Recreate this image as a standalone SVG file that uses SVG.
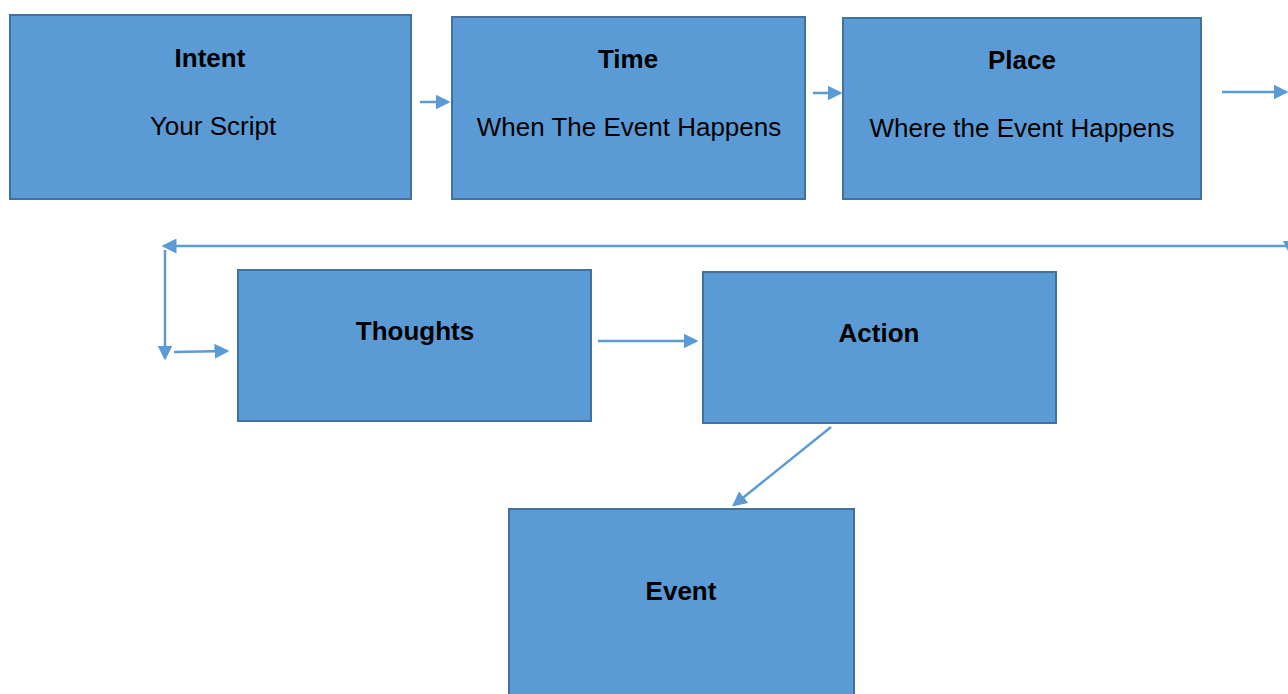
<svg xmlns="http://www.w3.org/2000/svg" width="1288" height="694" viewBox="0 0 1288 694">
<style>
.box{fill:#5B9BD5;stroke:#41719C;stroke-width:2}
.t{font-family:"Liberation Sans",Arial,sans-serif;font-size:26px;fill:#000;text-anchor:middle}
.b{font-weight:bold}
.c{fill:none;stroke:#5B9BD5;stroke-width:2.5}
</style>
<defs>
<marker id="ah" markerWidth="6" markerHeight="6" refX="5" refY="3" orient="auto" markerUnits="strokeWidth">
<path d="M0,0 L6,3 L0,6 z" fill="#5B9BD5"/>
</marker>
</defs>
<rect width="1288" height="694" fill="#fff"/>
<g id="intent"><rect class="box" x="10" y="15" width="401" height="184"/><text class="t b" x="210" y="67">Intent</text><text class="t" x="213" y="135">Your Script</text></g>
<g id="time"><rect class="box" x="452" y="17" width="353" height="182"/><text class="t b" x="628" y="68">Time</text><text class="t" x="629" y="136">When The Event Happens</text></g>
<g id="place"><rect class="box" x="843" y="18" width="358" height="181"/><text class="t b" x="1022" y="69">Place</text><text class="t" x="1022" y="137">Where the Event Happens</text></g>
<g id="thoughts"><rect class="box" x="238" y="270" width="353" height="151"/><text class="t b" x="415" y="340">Thoughts</text></g>
<g id="action"><rect class="box" x="703" y="272" width="353" height="151"/><text class="t b" x="879" y="342">Action</text></g>
<g id="event"><rect class="box" x="509" y="509" width="345" height="190"/><text class="t b" x="681" y="600">Event</text></g>
<g id="connectors">
<line class="c" x1="420" y1="102" x2="448" y2="102" marker-end="url(#ah)"/>
<line class="c" x1="813" y1="93" x2="840" y2="93" marker-end="url(#ah)"/>
<line class="c" x1="1222" y1="92" x2="1286" y2="92" marker-end="url(#ah)"/>
<line class="c" x1="1288" y1="246" x2="164" y2="246" marker-end="url(#ah)"/>
<path d="M1283,241 L1290,241 L1288,251 z" fill="#5B9BD5"/>
<line class="c" x1="165" y1="250" x2="165" y2="358" marker-end="url(#ah)"/>
<line class="c" x1="174" y1="352" x2="227" y2="351" marker-end="url(#ah)"/>
<line class="c" x1="598" y1="341" x2="696" y2="341" marker-end="url(#ah)"/>
<line class="c" x1="831" y1="427" x2="734" y2="505" marker-end="url(#ah)"/>
</g>
</svg>
